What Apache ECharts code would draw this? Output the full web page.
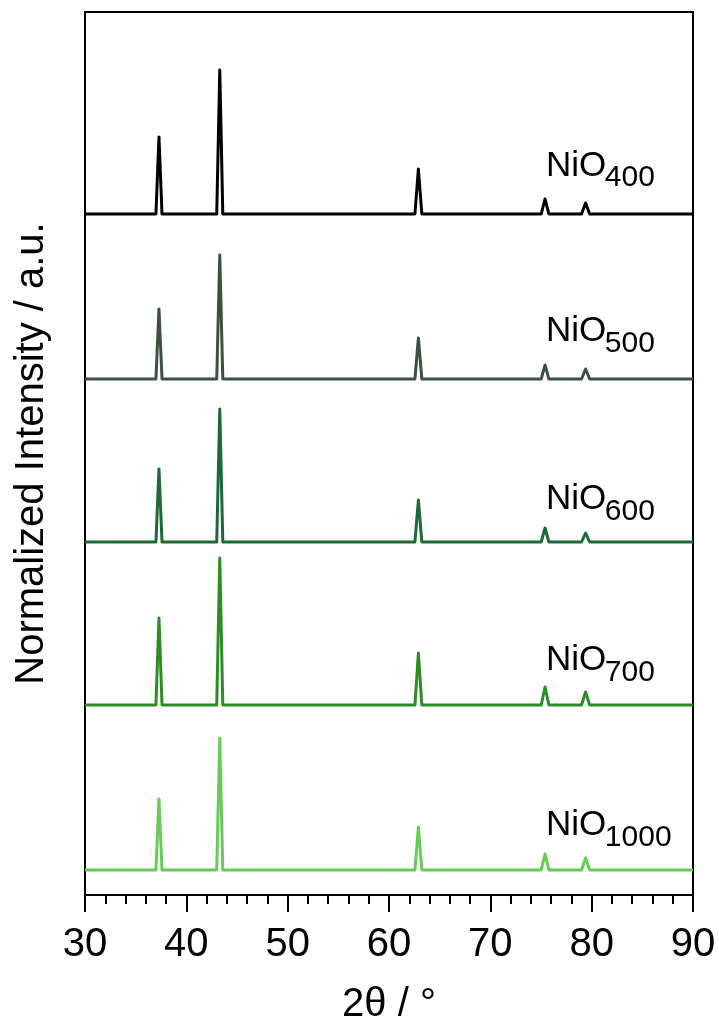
<!DOCTYPE html>
<html lang="en">
<head>
    <meta charset="UTF-8">
    <title>NiO XRD patterns</title>
    <script src="https://cdn.jsdelivr.net/npm/echarts@6/dist/echarts.min.js"></script>
    <style>
        html, body { margin: 0; padding: 0; background: #fff; }
        #chart { width: 719px; height: 1021px; }
    </style>
</head>
<body>
<div id="chart"></div>
<script>
    // sample names, colours and vertical offsets of each trace (a.u.)
    const samples = ['400', '500', '600', '700', '1000'];
    const colors = ['#000000', '#3b5141', '#1c6a34', '#2d8d25', '#66cc57'];
    const offsets = [681, 516, 353, 190, 25];

    // NiO reflections (2θ) and their half base width
    const peakPos = [37.3, 43.3, 62.9, 75.4, 79.4];
    const peakHalfWidth = [0.3, 0.3, 0.34, 0.38, 0.4];

    // peak heights above each baseline (a.u.)
    const heights400 = [77, 144, 45, 15, 11];
    const heights500 = [70, 124, 41, 14, 10];
    const heights600 = [73, 133, 42, 14, 9];
    const heights700 = [87, 147, 52, 18, 13];
    const heights1000 = [71, 132, 43, 16, 12];
    const allHeights = [heights400, heights500, heights600, heights700, heights1000];

    // label placement (2θ of left edge, lift above baseline)
    const labelX = 75.5;
    const subX = 81.3;
    const labelLift = [48, 48, 43, 45, 45];
    const subLift = [36, 35, 30, 32, 32];

    const xTicks = [30, 40, 50, 60, 70, 80, 90];

    function traceData(i) {
        const base = offsets[i];
        const pts = [[30, base]];
        peakPos.forEach((p, k) => {
            pts.push([p - peakHalfWidth[k], base]);
            pts.push([p, base + allHeights[i][k]]);
            pts.push([p + peakHalfWidth[k], base]);
        });
        pts.push([90, base]);
        return pts;
    }

    const font = '"Liberation Sans", Arial, sans-serif';

    const series = samples.map((name, i) => ({
        name: 'NiO' + name,
        type: 'line',
        data: traceData(i),
        symbol: 'none',
        silent: true,
        lineStyle: { color: colors[i], width: 3, join: 'round' },
        markPoint: {
            symbol: 'circle',
            symbolSize: 0,
            silent: true,
            data: [
                {
                    coord: [labelX, offsets[i] + labelLift[i]],
                    label: {
                        show: true, position: 'inside', align: 'left', verticalAlign: 'middle',
                        formatter: 'NiO', color: '#000', fontSize: 35, fontFamily: font
                    }
                },
                {
                    coord: [subX, offsets[i] + subLift[i]],
                    label: {
                        show: true, position: 'inside', align: 'left', verticalAlign: 'middle',
                        formatter: name, color: '#000', fontSize: 30, fontFamily: font
                    }
                }
            ]
        }
    }));

    const chart = echarts.init(document.getElementById('chart'));
    chart.setOption({
        animation: false,
        backgroundColor: '#fff',
        grid: {
            left: 85, right: 26, top: 12, bottom: 126,
            outerBoundsMode: 'none',
            containLabel: false,
            show: true, borderColor: '#000', borderWidth: 2
        },
        xAxis: {
            type: 'value',
            min: 30, max: 90, interval: 10,
            name: '2θ / °',
            nameLocation: 'middle',
            nameGap: 90,
            nameTextStyle: { fontSize: 40, color: '#000', fontFamily: font },
            axisLine: { show: true, lineStyle: { color: '#000', width: 2 } },
            axisTick: { show: true, inside: false, length: 17, lineStyle: { color: '#000', width: 2 } },
            minorTick: { show: true, splitNumber: 5, length: 9, lineStyle: { color: '#000', width: 2 } },
            splitLine: { show: false },
            axisLabel: {
                fontSize: 40, color: '#000', fontFamily: font, margin: 30,
                formatter: v => xTicks.includes(v) ? String(v) : ''
            }
        },
        yAxis: {
            type: 'value',
            min: 0, max: 883,
            name: 'Normalized Intensity / a.u.',
            nameLocation: 'middle',
            nameGap: 33,
            nameTextStyle: { fontSize: 40, color: '#000', fontFamily: font },
            axisLine: { show: true, lineStyle: { color: '#000', width: 2 } },
            axisTick: { show: false },
            axisLabel: { show: false },
            splitLine: { show: false }
        },
        series: series
    });
</script>
</body>
</html>
